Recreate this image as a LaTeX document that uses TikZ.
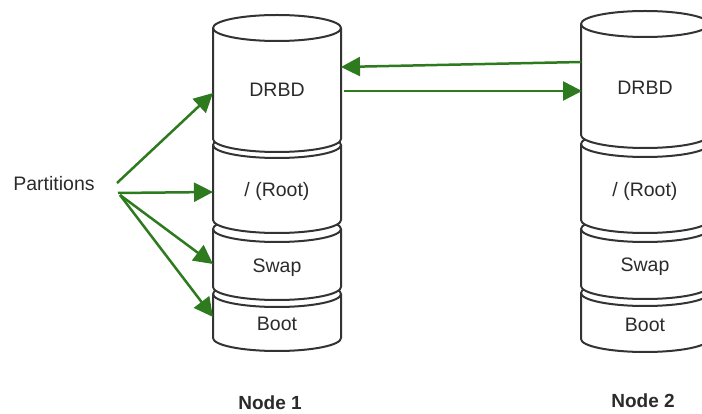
\documentclass[tikz,border=0pt]{standalone}
\usepackage{fontspec}
\setmainfont{Liberation Sans}
\usetikzlibrary{arrows.meta}
\definecolor{arrowgreen}{HTML}{2D7A1F}
\definecolor{boxline}{HTML}{333333}
\definecolor{txt}{HTML}{2B2B2B}
\tikzset{
  cylline/.style={draw=boxline, line width=2pt, fill=white, line join=round},
  lbl/.style={font=\fontsize{19.5}{22}\selectfont, text=txt, inner sep=0pt},
  nodelbl/.style={font=\bfseries\fontsize{19}{22}\selectfont, text=txt, inner sep=0pt},
  conn/.style={draw=arrowgreen, line width=2.5pt, -{Triangle[length=19pt,width=19pt]}},
}
% #1 = centre x, #2 = top ellipse centre y, #3 = bottom arc centre y
\newcommand\drawcylinder[3]{%
  \filldraw[cylline] (#1-64,#2) -- (#1-64,#3)
    arc[start angle=180,end angle=360,x radius=64pt,y radius=13pt]
    -- (#1+64,#2)
    arc[start angle=0,end angle=180,x radius=64pt,y radius=13pt] -- cycle;
  \draw[cylline,fill=none] (#1-64,#2)
    arc[start angle=180,end angle=360,x radius=64pt,y radius=13pt];
}
\begin{document}
\begin{tikzpicture}[x=1pt,y=-1pt]
\useasboundingbox (0,0) rectangle (702,414);
\clip (0,0) rectangle (702,414);
\fill[white] (0,0) rectangle (702,414);

% Node 1 stack
\drawcylinder{277}{294}{338}
\drawcylinder{277}{229}{287}
\drawcylinder{277}{145}{220}
\drawcylinder{277}{28}{139}
% Node 2 stack
\drawcylinder{645}{293}{339}
\drawcylinder{645}{229}{286}
\drawcylinder{645}{144}{220}
\drawcylinder{645}{24}{135}

% labels
\node[lbl] (a1) at (277,90) {DRBD};
\node[lbl] (b1) at (277,191) {/ (Root)};
\node[lbl] (s1) at (277,268) {Swap};
\node[lbl] (o1) at (277,324) {Boot};
\node[lbl] (a2) at (645,88) {DRBD};
\node[lbl] (b2) at (645,191) {/ (Root)};
\node[lbl] (s2) at (645,267) {Swap};
\node[lbl] (o2) at (645,325) {Boot};
\node[nodelbl] (node1) at (270,403) {Node 1};
\node[nodelbl] (node2) at (643,401) {Node 2};
\node[lbl] (part) at (54,184) {Partitions};

% connector end points
\coordinate (pa) at (117,183);
\coordinate (pb) at (118,193);
\coordinate (pc) at (120,195);
\coordinate (a1w) at (213,93);
\coordinate (b1w) at (213,192);
\coordinate (s1w) at (213,264);
\coordinate (o1w) at (213,317);
\coordinate (a1e) at (341,67);
\coordinate (a1e2) at (344,91);
\coordinate (a2w) at (581,62);
\coordinate (a2w2) at (582,91);

\draw[conn] (pa) -- (a1w);
\draw[conn] (pb) -- (b1w);
\draw[conn] (pc) -- (s1w);
\draw[conn] (pc) -- (o1w);
\draw[conn] (a2w) -- (a1e);
\draw[conn] (a1e2) -- (a2w2);
\end{tikzpicture}
\end{document}
